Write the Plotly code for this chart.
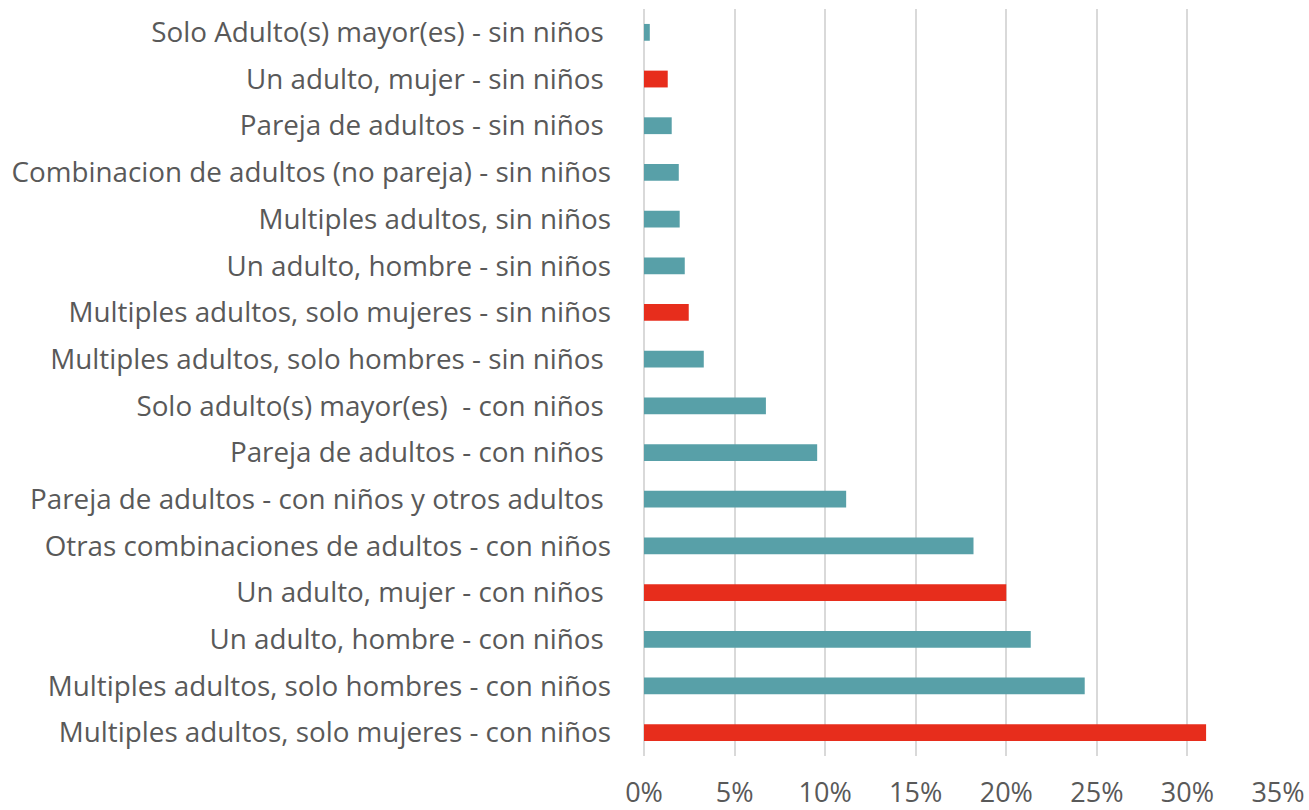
import plotly.graph_objects as go

NB = "\u00a0"
categories = [
    "Solo Adulto(s) mayor(es) - sin niños" + NB,
    "Un adulto, mujer - sin niños" + NB,
    "Pareja de adultos - sin niños" + NB,
    "Combinacion de adultos (no pareja) - sin niños",
    "Multiples adultos, sin niños",
    "Un adulto, hombre - sin niños",
    "Multiples adultos, solo mujeres - sin niños",
    "Multiples adultos, solo hombres - sin niños" + NB,
    "Solo adulto(s) mayor(es)" + NB + NB + "- con niños" + NB,
    "Pareja de adultos - con niños" + NB,
    "Pareja de adultos - con niños y otros adultos" + NB,
    "Otras combinaciones de adultos - con niños",
    "Un adulto, mujer - con niños" + NB,
    "Un adulto, hombre - con niños" + NB,
    "Multiples adultos, solo hombres - con niños",
    "Multiples adultos, solo mujeres - con niños",
]
values = [0.0032, 0.0131, 0.0153, 0.0192, 0.0197, 0.0225, 0.0247, 0.0330,
          0.0673, 0.0956, 0.1116, 0.1819, 0.2000, 0.2135, 0.2433, 0.3103]
highlight = [False, True, False, False, False, False, True, False,
             False, False, False, False, True, False, False, True]

TEAL = "#58A0A8"
RED = "#E72D1C"
colors = [RED if h else TEAL for h in highlight]

fig = go.Figure(go.Bar(
    x=values, y=categories, orientation="h",
    marker=dict(color=colors, line=dict(width=0)),
    width=0.36,
))

font_family = "'Open Sans', sans-serif"
fig.update_layout(
    width=1309, height=810,
    margin=dict(l=644, r=31, t=9, b=54, pad=0),
    paper_bgcolor="white", plot_bgcolor="white",
    showlegend=False,
    font=dict(family=font_family, color="#595959", size=24),
)
fig.update_xaxes(
    range=[0, 0.35], dtick=0.05, tickformat=".0%",
    showgrid=True, gridcolor="#D9D9D9", gridwidth=2,
    zeroline=True, zerolinecolor="#D9D9D9", zerolinewidth=2,
    showline=False, ticks="", ticklabelstandoff=18,
    tickfont=dict(size=27, color="#595959"),
    automargin=False, fixedrange=True,
)
fig.update_yaxes(
    categoryorder="array", categoryarray=categories, autorange="reversed",
    showgrid=False, zeroline=False, showline=False, ticks="",
    ticklabelstandoff=32,
    tickfont=dict(size=27.8, color="#595959"),
    automargin=False, fixedrange=True,
)

fig.write_html("out.html", config={"displayModeBar": False},
               post_script="document.body.style.margin='0';")
